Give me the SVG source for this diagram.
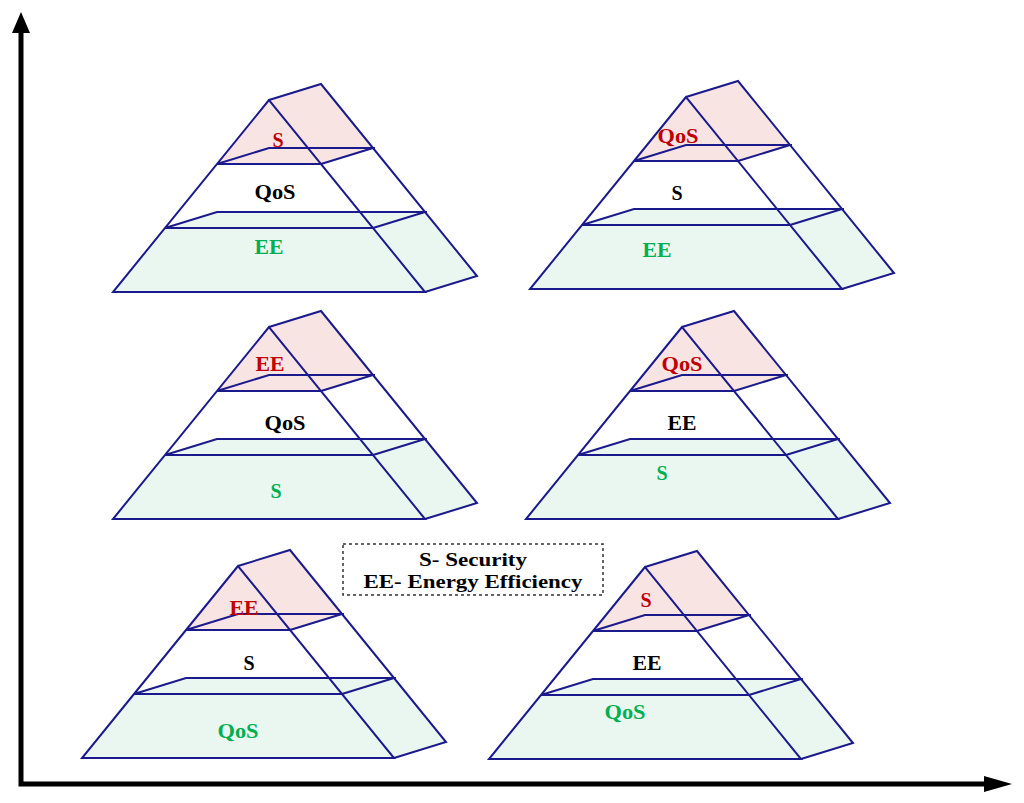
<svg xmlns="http://www.w3.org/2000/svg" xmlns:xlink="http://www.w3.org/1999/xlink" width="1024" height="803" viewBox="0 0 1024 803">
<style>
.edge{fill:none;stroke:#1a1a8c;stroke-width:2;stroke-linejoin:miter}
.pink{fill:#f9e4e4;stroke:none}
.green{fill:#eaf7f0;stroke:none}
.lbl{font-family:"Liberation Serif","Times New Roman",serif;font-weight:bold;font-size:20px;text-anchor:middle}
.top{fill:#c00000}
.mid{fill:#000000}
.bot{fill:#00b050}
.axis{fill:none;stroke:#000;stroke-width:5;stroke-linejoin:miter}
.legend{fill:#fff;stroke:#333;stroke-width:1.5;stroke-dasharray:3,3}
.legtxt{font-family:"Liberation Serif","Times New Roman",serif;font-weight:bold;font-size:19px;text-anchor:middle;fill:#000}
</style>
<defs>
<g id="pyr">
<polygon class="pink" points="0,0 52,-16 104,48 52,64 -52,64"/>
<polygon class="green" points="-104,128 -52,112 156,112 208,176 156,192 -156,192"/>
<path class="edge" d="M0,0 L-156,192 L156,192 Z M0,0 L52,-16 L208,176 L156,192 M-52,64 L52,64 M-52,64 L0,48 L106,48 M52,64 L104,48 M-104,128 L104,128 M-104,128 L-52,112 L158,112 M104,128 L156,112"/>
</g>
</defs>
<rect width="1024" height="803" fill="#ffffff"/>
<g id="axes">
<path class="axis" d="M21,32 L21,784 L986,784"/>
<polygon points="21,12 12,33 30,33" fill="#000"/>
<polygon points="1012,784 984,776 984,792" fill="#000"/>
</g>
<g id="pyramid1">
<use xlink:href="#pyr" href="#pyr" x="269" y="100"/>
<text class="lbl top" x="278" y="147">S</text>
<text class="lbl mid" x="275" y="199" textLength="41" lengthAdjust="spacingAndGlyphs">QoS</text>
<text class="lbl bot" x="269" y="254" textLength="29" lengthAdjust="spacingAndGlyphs">EE</text>
</g>
<g id="pyramid2">
<use xlink:href="#pyr" href="#pyr" x="686" y="97"/>
<text class="lbl top" x="678" y="143" textLength="41" lengthAdjust="spacingAndGlyphs">QoS</text>
<text class="lbl mid" x="677" y="200">S</text>
<text class="lbl bot" x="657" y="257" textLength="29" lengthAdjust="spacingAndGlyphs">EE</text>
</g>
<g id="pyramid3">
<use xlink:href="#pyr" href="#pyr" x="269" y="327"/>
<text class="lbl top" x="270" y="371" textLength="29" lengthAdjust="spacingAndGlyphs">EE</text>
<text class="lbl mid" x="285" y="430" textLength="41" lengthAdjust="spacingAndGlyphs">QoS</text>
<text class="lbl bot" x="276" y="498">S</text>
</g>
<g id="pyramid4">
<use xlink:href="#pyr" href="#pyr" x="682" y="327"/>
<text class="lbl top" x="682" y="371" textLength="41" lengthAdjust="spacingAndGlyphs">QoS</text>
<text class="lbl mid" x="682" y="430" textLength="29" lengthAdjust="spacingAndGlyphs">EE</text>
<text class="lbl bot" x="662" y="480">S</text>
</g>
<g id="pyramid5">
<use xlink:href="#pyr" href="#pyr" x="238" y="566"/>
<text class="lbl top" x="244" y="615" textLength="29" lengthAdjust="spacingAndGlyphs">EE</text>
<text class="lbl mid" x="249" y="670">S</text>
<text class="lbl bot" x="238" y="738" textLength="41" lengthAdjust="spacingAndGlyphs">QoS</text>
</g>
<g id="pyramid6">
<use xlink:href="#pyr" href="#pyr" x="645" y="567"/>
<text class="lbl top" x="646" y="607">S</text>
<text class="lbl mid" x="647" y="670" textLength="29" lengthAdjust="spacingAndGlyphs">EE</text>
<text class="lbl bot" x="625" y="719" textLength="41" lengthAdjust="spacingAndGlyphs">QoS</text>
</g>
<g id="legend">
<rect class="legend" x="343" y="544" width="260" height="51"/>
<text class="legtxt" x="473" y="566" textLength="108" lengthAdjust="spacingAndGlyphs">S- Security</text>
<text class="legtxt" x="473" y="588" textLength="219" lengthAdjust="spacingAndGlyphs">EE- Energy Efficiency</text>
</g>
</svg>
